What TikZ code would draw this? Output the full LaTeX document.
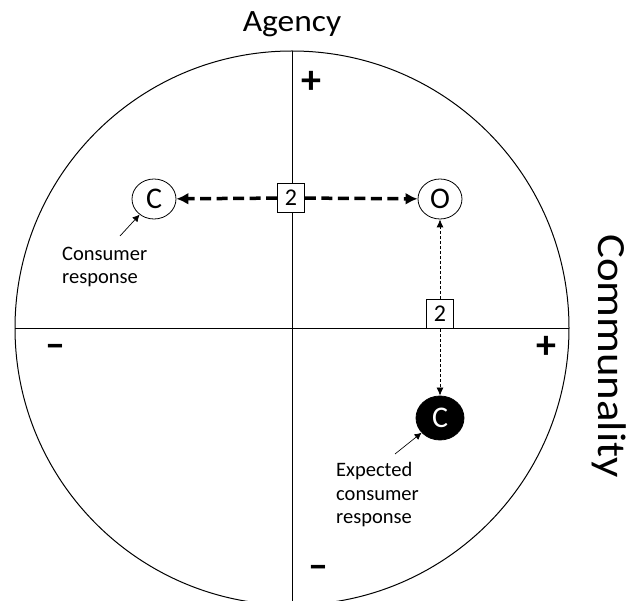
\documentclass[tikz,border=0pt]{standalone}
\usepackage{fontspec}
\setmainfont{Carlito}
\usetikzlibrary{arrows.meta, shapes.geometric, positioning}

\tikzset{
  letra/.style={draw, ellipse, line width=0.8pt, minimum width=44pt, minimum height=40pt, inner sep=0pt, font=\fontsize{30}{30}\selectfont},
  caja/.style={draw, rectangle, line width=0.8pt, fill=white, minimum width=27pt, minimum height=29pt, inner sep=0pt, font=\fontsize{24}{24}\selectfont},
  signo/.style={font=\fontsize{40}{40}\selectfont\bfseries},
  nota/.style={align=left, anchor=west, inner sep=0pt, font=\fontsize{20.5}{23.5}\selectfont},
  gruesa/.style={-{Latex[length=12pt,width=12pt]}, line width=3.5pt, dash pattern=on 11pt off 5.5pt},
  punteada/.style={-{Latex[length=8pt,width=7pt]}, line width=0.8pt, dash pattern=on 3pt off 2pt},
  indica/.style={-{Latex[length=7pt,width=7pt]}, line width=0.7pt},
}

\begin{document}
\begin{tikzpicture}[x=1pt, y=-1pt]
\useasboundingbox (0,0) rectangle (630,601);
% Circulo y ejes
\draw[line width=1pt] (292,328) circle (277);
\coordinate (arriba) at (292,51);
\coordinate (abajo) at (292,605);
\coordinate (izq) at (15,328);
\coordinate (der) at (569,328);
\draw[line width=0.9pt] (arriba) -- (abajo);
\draw[line width=0.9pt] (izq) -- (der);
% Titulos de los ejes
\node[font=\fontsize{31}{31}\selectfont] (agencia) at (292,24) {\scalebox{1.08}[1]{Agency}};
\node[font=\fontsize{40}{40}\selectfont, rotate=-90] (comunal) at (609,356) {\scalebox{1.12}[1]{Communality}};
% Signos
\node[signo] (masA) at (311,82) {+};
\node[signo] (menosI) at (55,351) {--};
\node[signo] (masD) at (546,347) {+};
\node[signo] (menosB) at (318,572) {--};
% Nodos
\node[letra] (cons) at (154,199) {C};
\node[letra] (org) at (440,199) {O};
\node[letra, fill=black, text=white, minimum width=48pt, minimum height=44pt] (esp) at (440,418) {C};
\node[caja] (dosA) at (291,198) {2};
\node[caja] (dosB) at (440,314) {2};
% Flechas
\draw[gruesa] (dosA) -- (cons);
\draw[gruesa] (dosA) -- (org);
\draw[punteada] (dosB) -- (org);
\draw[punteada] (dosB) -- (esp);
% Notas
\node[nota] (notaC) at (62,267) {Consumer\\response};
\node[nota] (notaE) at (336,495) {Expected\\consumer\\response};
\coordinate (pC) at (120,236);
\coordinate (pE) at (395,454);
\draw[indica] (pC) -- (cons);
\draw[indica] (pE) -- (esp);
\end{tikzpicture}
\end{document}
